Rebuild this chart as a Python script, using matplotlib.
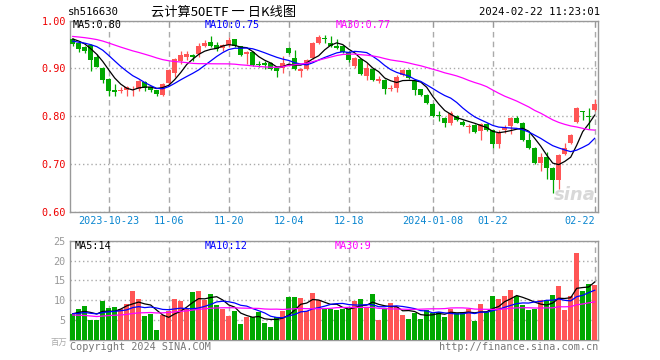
import numpy as np
import pandas as pd
import matplotlib
matplotlib.use('Agg')
import matplotlib.pyplot as plt

# ---------------- data ----------------
title_code = 'sh516630'
title_name = '云计算50ETF 一 日K线图'
timestamp = '2024-02-22 11:23:01'

opens = [0.961, 0.953, 0.944, 0.950, 0.924, 0.901, 0.878, 0.855, 0.852, 0.854,
         0.856, 0.856, 0.871, 0.861, 0.854, 0.845, 0.869, 0.891, 0.915, 0.925,
         0.928, 0.931, 0.948, 0.956, 0.950, 0.942, 0.949, 0.961, 0.947, 0.931,
         0.935, 0.909, 0.911, 0.911, 0.901, 0.901, 0.942, 0.921, 0.894, 0.899,
         0.922, 0.953, 0.962, 0.953, 0.947, 0.947, 0.935, 0.906, 0.919, 0.885,
         0.899, 0.873, 0.876, 0.858, 0.859, 0.887, 0.896, 0.875, 0.856, 0.845,
         0.826, 0.801, 0.797, 0.786, 0.801, 0.788, 0.778, 0.782, 0.769, 0.784,
         0.771, 0.741, 0.771, 0.779, 0.796, 0.786, 0.751, 0.734, 0.701, 0.715,
         0.692, 0.667, 0.720, 0.743, 0.787, 0.810, 0.801, 0.8125]
highs = [0.963, 0.955, 0.946, 0.952, 0.930, 0.903, 0.879, 0.868, 0.861, 0.863,
         0.8625, 0.875, 0.873, 0.863, 0.855, 0.870, 0.898, 0.921, 0.9375, 0.9375,
         0.930, 0.954, 0.960, 0.968, 0.955, 0.951, 0.965, 0.962, 0.948, 0.937,
         0.937, 0.9146, 0.915, 0.913, 0.903, 0.926, 0.945, 0.938, 0.901, 0.919,
         0.955, 0.970, 0.970, 0.967, 0.961, 0.949, 0.936, 0.925, 0.920, 0.911,
         0.901, 0.884, 0.877, 0.866, 0.886, 0.898, 0.898, 0.877, 0.858, 0.846,
         0.827, 0.810, 0.799, 0.810, 0.803, 0.792, 0.783, 0.784, 0.785, 0.786,
         0.772, 0.771, 0.782, 0.798, 0.800, 0.788, 0.764, 0.735, 0.722, 0.725,
         0.693, 0.720, 0.743, 0.762, 0.819, 0.811, 0.817, 0.836]
lows = [0.947, 0.935, 0.932, 0.894, 0.902, 0.869, 0.843, 0.842, 0.849, 0.842,
        0.842, 0.853, 0.852, 0.851, 0.843, 0.843, 0.867, 0.883, 0.910, 0.917,
        0.915, 0.925, 0.945, 0.944, 0.937, 0.937, 0.945, 0.944, 0.926, 0.910,
        0.906, 0.903, 0.899, 0.897, 0.883, 0.890, 0.930, 0.897, 0.883, 0.897,
        0.920, 0.951, 0.953, 0.945, 0.940, 0.933, 0.9125, 0.901, 0.887, 0.875,
        0.874, 0.869, 0.847, 0.852, 0.850, 0.885, 0.878, 0.845, 0.843, 0.826,
        0.799, 0.790, 0.777, 0.781, 0.790, 0.779, 0.765, 0.765, 0.750, 0.769,
        0.734, 0.734, 0.765, 0.762, 0.785, 0.749, 0.732, 0.699, 0.685, 0.668,
        0.640, 0.648, 0.718, 0.741, 0.785, 0.793, 0.773, 0.810]
closes = [0.951, 0.940, 0.936, 0.918, 0.904, 0.876, 0.852, 0.850, 0.854, 0.861,
          0.858, 0.873, 0.859, 0.854, 0.846, 0.868, 0.896, 0.919, 0.928, 0.930,
          0.924, 0.946, 0.953, 0.947, 0.940, 0.949, 0.960, 0.946, 0.928, 0.935,
          0.908, 0.907, 0.908, 0.899, 0.894, 0.911, 0.932, 0.899, 0.899, 0.917,
          0.953, 0.965, 0.961, 0.947, 0.942, 0.935, 0.917, 0.922, 0.889, 0.901,
          0.876, 0.878, 0.856, 0.860, 0.883, 0.896, 0.880, 0.854, 0.845, 0.828,
          0.801, 0.800, 0.786, 0.806, 0.792, 0.781, 0.780, 0.767, 0.783, 0.771,
          0.741, 0.765, 0.776, 0.796, 0.786, 0.751, 0.734, 0.701, 0.715, 0.692,
          0.667, 0.718, 0.734, 0.760, 0.817, 0.809, 0.799, 0.826]
volumes = [6.5, 7.8, 8.5, 5.0, 5.0, 9.75, 8.0, 8.3, 7.9, 9.0,
           12.25, 10.3, 6.0, 6.5, 2.5, 6.25, 7.3, 10.3, 9.8, 7.75,
           12.0, 12.25, 10.0, 11.5, 8.75, 7.9, 6.0, 7.25, 4.0, 5.7,
           5.7, 7.0, 4.25, 3.25, 5.7, 7.25, 10.7, 10.8, 10.5, 7.25,
           11.75, 10.0, 8.0, 7.8, 7.5, 7.8, 7.8, 9.75, 10.3, 8.3,
           11.5, 5.0, 8.0, 9.2, 8.3, 6.25, 5.3, 6.8, 5.3, 7.5,
           6.8, 7.0, 5.8, 7.9, 6.7, 7.0, 7.8, 4.8, 9.0, 7.0,
           11.0, 10.3, 11.0, 12.5, 11.2, 8.7, 7.5, 7.8, 10.0, 10.0,
           11.25, 13.5, 7.5, 11.0, 21.8, 12.25, 14.2, 13.75]
# sessions before the visible window (only feed the moving averages)
prior_closes = [0.975, 0.978, 0.972, 0.968, 0.970, 0.974, 0.980, 0.983, 0.979, 0.976,
                0.972, 0.969, 0.966, 0.970, 0.973, 0.968, 0.965, 0.962, 0.967, 0.971,
                0.964, 0.955, 0.950, 0.945, 0.950, 0.962, 0.966, 0.968, 0.962]
prior_volumes = [9.8, 10.2, 9.0, 9.3, 5.8, 4.9, 5.5, 6.0, 4.6, 5.2,
                 5.7, 4.8, 5.0, 5.9, 5.3, 4.7, 5.6, 5.1, 5.4, 5.3,
                 6.8, 6.2, 7.0, 6.5, 6.5, 6.0, 7.2, 6.4, 6.9]

first_day = '2023-10-13'
last_day = '2024-02-22'
holidays = ['2024-01-01', '2024-02-09', '2024-02-12', '2024-02-13',
            '2024-02-14', '2024-02-15', '2024-02-16']
tick_dates = ['2023-10-23', '2023-11-06', '2023-11-20', '2023-12-04',
              '2023-12-18', '2024-01-08', '2024-01-22', '2024-02-22']
tick_labels = ['2023-10-23', '11-06', '11-20', '12-04', '12-18',
               '2024-01-08', '01-22', '02-22']
price_ticks = [0.60, 0.70, 0.80, 0.90, 1.00]
vol_ticks = [5, 10, 15, 20, 25]
vol_unit = '百万'
ma_periods = [5, 10, 30]
ma_colors = ['#000000', '#0000ff', '#ff00ff']

# ---------------- derived ----------------
days = pd.bdate_range(first_day, last_day)
days = days[~days.isin(pd.to_datetime(holidays))]
n = len(closes)
x = np.arange(n)
date_index = {d.strftime('%Y-%m-%d'): i for i, d in enumerate(days)}
tick_pos = [date_index[d] for d in tick_dates]

def moving(prior, vals, p):
    s = pd.Series(list(prior) + list(vals)).rolling(p).mean()
    return s.iloc[len(prior):].to_numpy()

price_ma = [moving(prior_closes, closes, p) for p in ma_periods]
vol_ma = [moving(prior_volumes, volumes, p) for p in ma_periods]

RED = '#ff5555'
GREEN = '#00a800'
GRID = '#aaaaaa'
SPINE = '#999999'
MONO = 'DejaVu Sans Mono'
FS = 7.3

W, H = 660, 360
fig = plt.figure(figsize=(W / 100, H / 100), dpi=100)

def fx(px):
    return px / W

def fy(py):
    return 1 - py / H

left, right = 70, 598
ax = fig.add_axes([fx(left), fy(211.7), fx(right - left), (211.7 - 20.7) / H])
axv = fig.add_axes([fx(left), fy(340), fx(right - left), (340 - 240.7) / H])

o = np.array(opens); c = np.array(closes)
hi = np.array(highs); lo = np.array(lows)
up = c >= o
cols = np.where(up, RED, GREEN)

# candles
ax.vlines(x, lo, hi, colors=cols, lw=0.9, zorder=3)
body_h = np.maximum(np.abs(c - o), 0.0018)
ax.bar(x, body_h, bottom=np.minimum(o, c), width=0.8, color=cols, lw=0, zorder=4)
for ma, col in zip(price_ma, ma_colors):
    ax.plot(x, ma, color=col, lw=0.9, zorder=5)

# volume
axv.bar(x, volumes, width=0.82, color=cols, lw=0, zorder=3)
for ma, col in zip(vol_ma, ma_colors):
    axv.plot(x, ma, color=col, lw=0.9, zorder=5)

for a in (ax, axv):
    a.set_xlim(-0.45, n - 0.45)
    for s in a.spines.values():
        s.set_color(SPINE)
        s.set_linewidth(1.0)
    a.set_xticks(tick_pos)
    a.xaxis.grid(True, color=GRID, lw=1.0, linestyle=(0, (4, 3)))
    a.yaxis.grid(True, color=GRID, lw=1.0, linestyle=(0, (1, 2)))
    a.set_axisbelow(True)

ax.set_ylim(price_ticks[0], price_ticks[-1])
ax.set_yticks(price_ticks)
ax.set_yticklabels([f'{t:.2f}' for t in price_ticks], fontfamily=MONO, fontsize=FS)
ax.tick_params(axis='y', length=0, pad=3, labelcolor='#ee0000')
ax.set_xticklabels(tick_labels, fontfamily=MONO, fontsize=FS)
ax.tick_params(axis='x', direction='in', length=4, top=True, color=SPINE,
               labelcolor='#0a86d0', pad=3)
xl = ax.get_xticklabels()
xl[-1].set_ha('right')

axv.set_ylim(0, vol_ticks[-1])
axv.set_yticks(vol_ticks)
axv.set_yticklabels([str(t) for t in vol_ticks], fontfamily=MONO, fontsize=FS)
axv.tick_params(axis='y', length=0, pad=3, labelcolor='#999999')
axv.tick_params(axis='x', length=0, labelbottom=False)
axv.text(-0.005, -0.02, vol_unit, transform=axv.transAxes, ha='right', va='center',
         fontsize=6, color='#aaaaaa', family=['Noto Sans CJK SC', 'DejaVu Sans'])

# header
fig.text(fx(68), fy(12), title_code, ha='left', va='center', fontfamily=MONO,
         fontsize=FS + 0.3, color='#000000')
fig.text(fx(224), fy(12), title_name, ha='center', va='center',
         family=['Noto Sans CJK SC', 'DejaVu Sans'], fontsize=9.5, color='#000000')
fig.text(fx(600), fy(12), timestamp, ha='right', va='center', fontfamily=MONO,
         fontsize=FS + 0.3, color='#000000')

# MA legends
names = [f'MA{p}' for p in ma_periods]
for name, ma, col, xp in zip(names, price_ma, ma_colors, [73, 205, 336]):
    fig.text(fx(xp), fy(25.5), f'{name}:{ma[-1]:.2f}', ha='left', va='center',
             fontfamily=MONO, fontsize=FS, color=col)
for name, ma, col, xp in zip(names, vol_ma, ma_colors, [75, 205, 335]):
    fig.text(fx(xp), fy(246), f'{name}:{int(ma[-1])}', ha='left', va='center',
             fontfamily=MONO, fontsize=FS, color=col)

# footer + watermark
fig.text(fx(70), fy(347), 'Copyright 2024 SINA.COM', ha='left', va='center',
         fontfamily=MONO, fontsize=FS, color='#777777')
fig.text(fx(598), fy(347), 'http://finance.sina.com.cn', ha='right', va='center',
         fontfamily=MONO, fontsize=FS, color='#777777')
ax.text(0.995, 0.04, 'sina', transform=ax.transAxes, ha='right', va='bottom',
        fontsize=13, fontweight='bold', style='italic', color='#d8d8d8', zorder=1)

fig.savefig('out.png', dpi=100)
